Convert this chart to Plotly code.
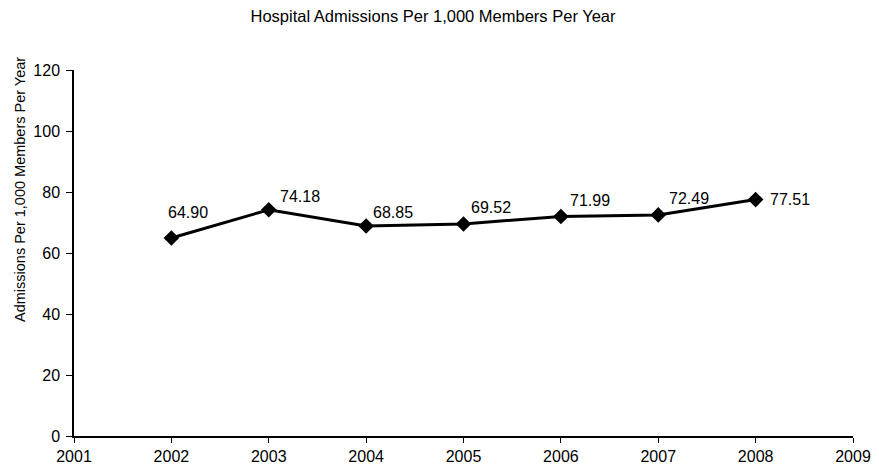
import plotly.graph_objects as go

years = [2002, 2003, 2004, 2005, 2006, 2007, 2008]
admissions = [64.90, 74.18, 68.85, 69.52, 71.99, 72.49, 77.51]
value_labels = ["64.90", "74.18", "68.85", "69.52", "71.99", "72.49", "77.51"]
x_ticks = [2001, 2002, 2003, 2004, 2005, 2006, 2007, 2008, 2009]
y_ticks = [0, 20, 40, 60, 80, 100, 120]

title_text = "Hospital Admissions Per 1,000 Members Per Year"
y_title = "Admissions Per 1,000 Members Per Year"

FONT = "Liberation Sans, Arial, sans-serif"

# page body has an 8px margin; figure drawn to fit the rest of the window
W, H = 871, 459
L, R, T, B = 66, 26, 62, 31

fig = go.Figure()
fig.add_trace(go.Scatter(
    x=years, y=admissions, mode="lines+markers",
    line=dict(color="black", width=3),
    marker=dict(symbol="diamond", size=12, color="black"),
    showlegend=False, hoverinfo="skip",
))

# label offsets (pixels) per point
label_dx = [-5, 9, 5, 5, 7, 9, 12]
label_dy = [26, 13, 14, 16, 16, 16, 0]
for x, y, t, dx, dy in zip(years, admissions, value_labels, label_dx, label_dy):
    fig.add_annotation(x=x, y=y, xref="x", yref="y", text=t, showarrow=False,
                       xanchor="left", yanchor="middle", xshift=dx, yshift=dy,
                       font=dict(family=FONT, size=16, color="black"))

pw, ph = W - L - R, H - T - B
fig.add_annotation(x=(12 - L) / pw, y=(H - B - 182) / ph, xref="paper", yref="paper",
                   xanchor="center", yanchor="middle", text=y_title,
                   showarrow=False, textangle=-90,
                   font=dict(family=FONT, size=14.5, color="black"))

fig.update_layout(
    width=W, height=H,
    margin=dict(l=L, r=R, t=T, b=B, autoexpand=False),
    paper_bgcolor="white", plot_bgcolor="white",
    title=dict(text=title_text, x=425 / W, xanchor="center", y=1 - 8 / H, yanchor="middle",
               font=dict(family=FONT, size=16.5, color="black")),
    font=dict(family=FONT, size=16, color="black"),
    xaxis=dict(range=[2001, 2009], tickmode="array", tickvals=x_ticks,
               ticktext=[str(v) for v in x_ticks],
               showgrid=False, zeroline=False, showline=True, linecolor="black", linewidth=1.5,
               ticks="outside", ticklen=5, tickcolor="black", tickfont=dict(size=16)),
    yaxis=dict(range=[0, 120], tickmode="array", tickvals=y_ticks,
               showgrid=False, zeroline=False, showline=True, linecolor="black", linewidth=1.5,
               ticks="outside", ticklen=6, tickcolor="black", tickfont=dict(size=16),
               ticklabelstandoff=3),
)

fig.write_html("out.html")
